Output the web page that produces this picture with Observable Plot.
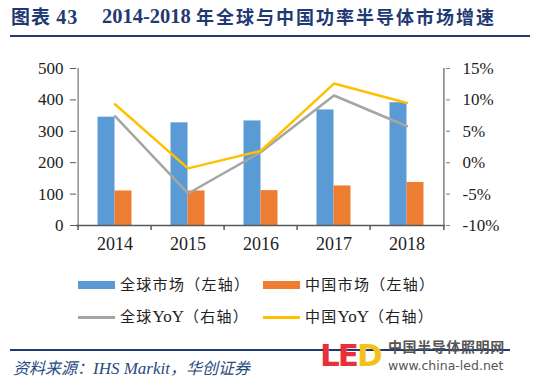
<!DOCTYPE html>
<html>
<head>
<meta charset="utf-8">
<script src="https://cdn.jsdelivr.net/npm/d3@7"></script>
<script src="https://cdn.jsdelivr.net/npm/@observablehq/plot@0.6"></script>
<style>
  body { margin: 0; background: #fff; }
  #wrap { position: relative; width: 543px; height: 383px; overflow: hidden; background: #fff; }
  #chart { position: absolute; left: 0; top: 0; }
  #chart svg text { font-family: "Liberation Serif", serif; }
  .abs { position: absolute; white-space: nowrap; }
  .title { color: #1f3a73; font-weight: bold; font-size: 19px; line-height: 20px; }
  .leg { font-family: "Noto Sans CJK SC", sans-serif; font-size: 15px; color: #222; letter-spacing: 1.3px; line-height: 18px; }
  .leg .lat { font-family: "Liberation Serif", serif; font-size: 17px; letter-spacing: 0; }
</style>
</head>
<body>
<div id="wrap">
  <div id="chart"></div>
  <div class="abs title" style="left:11px; top:6px; font-family:'Noto Sans CJK SC'; letter-spacing:1px;">图表 <span style="font-family:'Liberation Serif'; font-size:20px;">43</span></div>
  <div class="abs title" style="left:102px; top:6px; font-family:'Liberation Serif'; font-size:20.5px;">2014-2018</div>
  <div class="abs title" style="left:196px; top:6px; font-family:'Noto Sans CJK SC'; font-size:18px; letter-spacing:2px;">年全球与中国功率半导体市场增速</div>
  <div class="abs" style="left:10px; top:35px; width:520px; height:2px; background:#1f3a73;"></div>

  <div class="abs" style="left:10px; top:349px; width:500px; height:1.5px; background:#1f3a73;"></div>
  <div class="abs" style="left:13px; top:357px; font-family:'Noto Sans CJK SC'; font-style:italic; font-size:16px; color:#2a4a80; line-height:20px;">资料来源：<span style="font-family:'Liberation Serif'; font-size:17px;">IHS Markit</span>，华创证券</div>

  <div class="abs" style="left:320px; top:339px; font-family:'DejaVu Sans'; font-weight:bold; font-size:31px; line-height:32px; color:#e8303a; letter-spacing:-2px;">LE<span style="color:#f2c21b;">D</span></div>
  <div class="abs" style="left:388px; top:339px; font-family:'Noto Sans CJK SC'; font-weight:bold; font-size:14px; line-height:15px; color:#555; letter-spacing:0.6px;">中国半导体照明网</div>
  <div class="abs" style="left:388px; top:359px; font-family:'DejaVu Sans'; font-size:12.5px; line-height:14px; color:#555;">www.china-led.net</div>
</div>
<script>
const years = ["2014", "2015", "2016", "2017", "2018"];
const globalMarket = [345, 327, 333, 368, 391];
const chinaMarket = [110, 110, 111, 126, 137];
const globalYoY = [7.4, -4.9, 1.7, 10.7, 5.8];
const chinaYoY = [9.3, -0.9, 1.9, 12.6, 9.5];
const leftTicks = [0, 100, 200, 300, 400, 500];
const rightTicks = [-10, -5, 0, 5, 10, 15];
const seriesNames = ["全球市场（左轴）", "中国市场（左轴）", "全球YoY（右轴）", "中国YoY（右轴）"];
const colors = ["#5b9bd5", "#ed7d31", "#a5a5a5", "#ffc000"];

// right axis (-10%..15%) mapped onto left axis (0..500)
const toLeft = v => (v - rightTicks[0]) * (leftTicks[leftTicks.length - 1] / (rightTicks[rightTicks.length - 1] - rightTicks[0]));
const rows = years.map((y, i) => ({year: y, g: globalMarket[i], c: chinaMarket[i], gy: globalYoY[i], cy: chinaYoY[i]}));

const W = 543, H = 260, mL = 76, mR = 98, mT = 68, mB = 35;
const step = (W - mL - mR) / years.length;
const bw = step * 0.23;
const axisColor = "#595959";
const serif = "Liberation Serif, serif";

const chart = Plot.plot({
  width: W, height: H,
  marginLeft: mL, marginRight: mR, marginTop: mT, marginBottom: mB,
  style: {fontFamily: serif, fontSize: "17px", color: "#222", background: "transparent"},
  x: {type: "band", domain: years, paddingInner: 0.77, paddingOuter: 0.385},
  y: {domain: [0, 500]},
  marks: [
    Plot.barY(rows, {x: "year", y: "g", fill: colors[0], dx: -bw / 2}),
    Plot.barY(rows, {x: "year", y: "c", fill: colors[1], dx: bw / 2}),
    Plot.line(rows, {x: "year", y: d => toLeft(d.gy), stroke: colors[2], strokeWidth: 2.5}),
    Plot.line(rows, {x: "year", y: d => toLeft(d.cy), stroke: colors[3], strokeWidth: 2.5}),
    Plot.ruleY([0], {stroke: axisColor, strokeWidth: 1.5}),
    Plot.ruleX([years[0]], {x: d => d, dx: -step / 2, y1: 0, y2: 500, stroke: axisColor}),
    Plot.ruleX([years[years.length - 1]], {x: d => d, dx: step / 2, y1: 0, y2: 500, stroke: "#7f7f7f", strokeWidth: 1.5}),
    Plot.ruleX(years, {x: d => d, dx: -step / 2, y1: 0, y2: -16, stroke: axisColor, strokeWidth: 1.5}),
    Plot.ruleX([years[years.length - 1]], {x: d => d, dx: step / 2, y1: 0, y2: -16, stroke: axisColor, strokeWidth: 1.5}),
    Plot.axisY({anchor: "left", ticks: leftTicks, tickSize: 6, tickPadding: 7, label: null, stroke: axisColor, fontFamily: serif, fontSize: 17}),
    Plot.axisY({anchor: "right", ticks: rightTicks.map(toLeft), tickSize: 4, tickPadding: 13, label: null, stroke: "#7f7f7f", fontFamily: serif, fontSize: 17,
      tickFormat: v => rightTicks[rightTicks.map(toLeft).indexOf(v)] + "%"}),
    Plot.axisX({tickSize: 0, tickPadding: 12, label: null, fontFamily: serif, fontSize: 18})
  ]
});
document.getElementById("chart").appendChild(chart);

// legend
const wrap = document.getElementById("wrap");
const legPos = [[78, 285, 120], [263, 285, 305], [78, 317, 120], [263, 317, 305]];
seriesNames.forEach((name, i) => {
  const [sx, cy, tx] = legPos[i];
  const sw = document.createElement("div");
  sw.className = "abs";
  const h = i < 2 ? 8 : 3;
  sw.style.cssText = `left:${sx}px; top:${cy - h / 2}px; width:37px; height:${h}px; background:${colors[i]};`;
  wrap.appendChild(sw);
  const t = document.createElement("div");
  t.className = "abs leg";
  t.style.left = tx + "px";
  t.style.top = (cy - 10) + "px";
  t.innerHTML = name.replace("YoY", '<span class="lat">YoY</span>');
  wrap.appendChild(t);
});
</script>
</body>
</html>
